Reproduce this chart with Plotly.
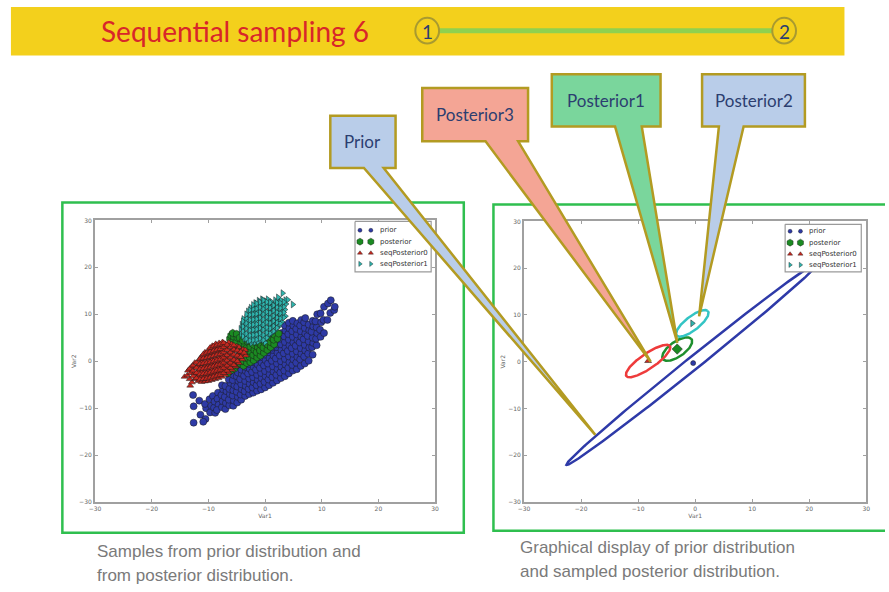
import numpy as np
import plotly.graph_objects as go

W, H = 889, 592

# ---------------- data ----------------
tick_vals = [-30, -20, -10, 0, 10, 20, 30]
series_names = ["prior", "posterior", "seqPosterior0", "seqPosterior1"]

prior_pts = [
    (-12.6, -13.1), (-12.6, -9.6), (-12.7, -7.2), (-11.6, -8.4), (-11.4, -11.4), (-10.5, -12.3), (-10.9, -12.9),
    (-10.4, -10.0), (-10.6, -9.1), (-9.7, -10.9), (-9.8, -8.1), (-9.5, -9.5), (-9.2, -7.4), (-9.0, -9.9),
    (-8.9, -8.6), (-8.8, -11.0), (-8.3, -6.7), (-8.4, -8.0), (-8.2, -9.3), (-8.5, -10.4),
    (-7.6, -9.8), (-7.5, -8.5), (-7.7, -7.2), (-7.4, -6.0), (-7.6, -5.1), (-7.0, -10.2), (-6.9, -8.9),
    (-7.1, -7.6), (-6.8, -6.4), (-7.0, -5.3),
    (-6.3, -9.4), (-6.4, -8.2), (-6.2, -7.0), (-6.3, -5.9), (-6.1, -4.6), (-6.4, -3.9),
    (-5.6, -9.5), (-5.5, -8.4), (-5.7, -7.3), (-5.6, -6.2), (-5.4, -5.1), (-5.7, -4.0), (-5.5, -3.0),
    (-4.9, -8.8), (-4.8, -7.6), (-5.0, -6.5), (-4.9, -5.4), (-4.7, -4.2), (-5.0, -3.2), (-4.8, -2.4),
    (-4.2, -8.2), (-4.3, -7.1), (-4.1, -6.0), (-4.2, -4.9), (-4.4, -3.8), (-4.1, -2.7), (-4.2, -1.8),
    (-3.5, -7.4), (-3.6, -6.4), (-3.4, -5.3), (-3.5, -4.2), (-3.7, -3.1), (-3.4, -2.1), (-3.5, -1.2),
    (-2.8, -7.0), (-2.9, -5.9), (-2.7, -4.8), (-2.8, -3.7), (-3.0, -2.6), (-2.7, -1.6), (-2.8, -0.6),
    (-2.1, -6.7), (-2.2, -5.6), (-2.0, -4.5), (-2.1, -3.4), (-2.3, -2.3), (-2.0, -1.2), (-2.1, -0.2),
    (-1.4, -6.3), (-1.5, -5.1), (-1.3, -4.0), (-1.4, -2.9), (-1.6, -1.8), (-1.3, -0.7), (-1.4, 0.4),
    (-0.7, -6.0), (-0.8, -4.8), (-0.6, -3.6), (-0.7, -2.5), (-0.9, -1.4), (-0.6, -0.3), (-0.7, 0.9),
    (0.0, -5.6), (-0.1, -4.4), (0.1, -3.2), (0.0, -2.1), (-0.2, -0.9), (0.1, 0.2), (0.0, 1.4),
    (0.7, -5.1), (0.6, -3.9), (0.8, -2.8), (0.7, -1.6), (0.5, -0.5), (0.8, 0.7), (0.7, 1.9), (0.6, 2.4),
    (1.4, -4.6), (1.3, -3.4), (1.5, -2.2), (1.4, -1.1), (1.2, 0.1), (1.5, 1.2), (1.4, 2.4), (1.3, 2.9),
    (2.1, -4.1), (2.0, -2.9), (2.2, -1.7), (2.1, -0.5), (1.9, 0.6), (2.2, 1.8), (2.1, 3.0), (2.0, 3.6),
    (2.8, -3.6), (2.7, -2.4), (2.9, -1.2), (2.8, 0.0), (2.6, 1.2), (2.9, 2.4), (2.8, 3.6), (2.7, 4.8), (2.9, 6.0),
    (3.5, -3.2), (3.4, -2.0), (3.6, -0.7), (3.5, 0.5), (3.3, 1.7), (3.6, 2.9), (3.5, 4.1), (3.4, 5.3), (3.6, 6.5), (3.5, 7.6),
    (4.2, -2.6), (4.1, -1.4), (4.3, -0.2), (4.2, 1.0), (4.0, 2.2), (4.3, 3.4), (4.2, 4.6), (4.1, 5.8), (4.3, 7.0), (4.2, 8.2),
    (4.9, -2.0), (4.8, -0.8), (5.0, 0.4), (4.9, 1.6), (4.7, 2.8), (5.0, 4.0), (4.9, 5.2), (4.8, 6.4), (5.0, 7.6), (4.9, 8.6),
    (5.6, -1.7), (5.5, -0.3), (5.7, 0.9), (5.6, 2.1), (5.4, 3.3), (5.7, 4.5), (5.6, 5.7), (5.5, 6.9), (5.7, 8.1),
    (6.3, -1.0), (6.2, 0.4), (6.4, 1.6), (6.3, 2.8), (6.1, 4.0), (6.4, 5.2), (6.3, 6.4), (6.2, 7.6), (6.4, 8.8),
    (7.0, -0.5), (6.9, 1.0), (7.1, 2.3), (7.0, 3.5), (6.8, 4.7), (7.1, 5.9), (7.0, 7.1), (6.9, 8.3), (7.1, 9.2),
    (7.7, 0.1), (7.6, 1.6), (7.8, 2.9), (7.7, 4.2), (7.5, 5.4), (7.8, 6.6), (7.7, 7.8),
    (8.4, 1.4), (8.3, 3.0), (8.5, 3.9), (8.4, 5.0), (8.2, 6.3), (8.5, 7.4), (8.4, 8.6),
    (9.1, 3.4), (9.0, 4.8), (9.2, 6.0), (9.1, 7.2), (8.9, 8.5), (9.2, 10.0),
    (9.8, 5.2), (9.7, 6.7), (9.9, 8.3), (9.8, 10.2),
    (10.4, 6.0), (10.3, 8.8), (10.4, 11.6), (11.0, 8.8), (11.1, 12.3), (11.6, 13.0), (11.5, 10.3),
    (12.2, 10.9), (12.3, 11.6),
]

posterior_pts = [
    (-6.6, -2.6), (-6.0, -2.0), (-5.4, -1.6), (-5.0, -0.9),
    (-6.2, 4.8), (-6.0, 5.5), (-5.6, 4.2), (-5.5, 5.2), (-5.7, 6.0),
    (-5.0, 3.0), (-5.1, 4.0), (-4.9, 5.0), (-5.0, 5.8),
    (-4.4, -0.5), (-4.5, 0.6), (-4.3, 1.7), (-4.4, 2.8), (-4.2, 3.9), (-4.5, 5.0),
    (-3.8, -1.0), (-3.9, 0.1), (-3.7, 1.2), (-3.8, 2.3), (-3.6, 3.4), (-3.9, 4.4),
    (-3.2, -0.4), (-3.3, 0.7), (-3.1, 1.8), (-3.2, 2.9), (-3.0, 4.0),
    (-2.6, -0.2), (-2.7, 0.9), (-2.5, 2.0), (-2.6, 3.1), (-2.4, 4.1),
    (-2.0, 0.2), (-2.1, 1.3), (-1.9, 2.4), (-2.0, 3.5),
    (-1.4, 0.8), (-1.5, 1.9), (-1.3, 3.0), (-1.4, 4.0),
    (-0.8, 1.2), (-0.9, 2.3), (-0.7, 3.4),
    (-0.2, 1.8), (-0.3, 2.9), (-0.1, 4.0),
    (0.4, 2.4), (0.5, 3.5),
    (1.0, 3.0), (0.9, 4.1), (1.1, 5.0),
    (1.6, 3.6), (1.5, 4.6), (1.7, 5.6), (2.2, 4.8), (2.4, 5.9),
]

seq0_pts = [
    (-14.2, -3.3), (-13.6, -2.0), (-13.7, -3.0), (-13.2, -5.2), (-13.0, -1.2), (-13.1, -2.5), (-12.9, -4.5),
    (-12.4, -3.8), (-12.5, -2.6), (-12.3, -1.4), (-12.4, -0.3),
    (-11.8, -4.2), (-11.9, -3.1), (-11.7, -2.0), (-11.8, -0.9), (-11.6, 0.2),
    (-11.2, -4.4), (-11.3, -3.4), (-11.1, -2.3), (-11.2, -1.2), (-11.0, -0.1), (-11.3, 0.9),
    (-10.6, -4.3), (-10.7, -3.3), (-10.5, -2.2), (-10.6, -1.1), (-10.4, 0.0), (-10.7, 1.0), (-10.6, 1.9),
    (-10.0, -4.2), (-10.1, -3.1), (-9.9, -2.0), (-10.0, -0.9), (-9.8, 0.2), (-10.1, 1.3), (-10.0, 2.3),
    (-9.4, -4.0), (-9.5, -2.9), (-9.3, -1.8), (-9.4, -0.7), (-9.2, 0.4), (-9.5, 1.5), (-9.4, 2.6), (-9.3, 3.3),
    (-8.8, -3.8), (-8.9, -2.7), (-8.7, -1.6), (-8.8, -0.5), (-8.6, 0.6), (-8.9, 1.7), (-8.8, 2.8), (-8.7, 3.7),
    (-8.2, -3.6), (-8.3, -2.5), (-8.1, -1.4), (-8.2, -0.3), (-8.0, 0.8), (-8.3, 1.9), (-8.2, 3.0), (-8.1, 3.9),
    (-7.6, -3.3), (-7.7, -2.2), (-7.5, -1.1), (-7.6, 0.0), (-7.4, 1.1), (-7.7, 2.2), (-7.6, 3.3), (-7.5, 4.1),
    (-7.0, -2.9), (-7.1, -1.8), (-6.9, -0.7), (-7.0, 0.4), (-6.8, 1.5), (-7.1, 2.6), (-7.0, 3.7),
    (-6.4, -2.4), (-6.5, -1.3), (-6.3, -0.2), (-6.4, 0.9), (-6.2, 2.0), (-6.5, 3.1), (-6.4, 4.0),
    (-5.8, -1.8), (-5.9, -0.7), (-5.7, 0.4), (-5.8, 1.5), (-5.6, 2.6), (-5.9, 3.6),
    (-5.2, -1.1), (-5.3, 0.0), (-5.1, 1.1), (-5.2, 2.2), (-5.0, 3.2),
    (-4.6, -0.4), (-4.7, 0.8), (-4.5, 1.9), (-4.6, 3.0),
    (-4.0, 0.4), (-4.1, 1.5), (-3.9, 2.5), (-3.4, 1.2), (-3.5, 2.4),
    (-13.3, -3.8), (-13.3, -1.6), (-12.7, -3.2), (-12.7, -2.0), (-12.7, -0.9), (-12.1, -3.6), (-12.1, -2.5),
    (-12.1, -1.4), (-12.1, -0.3), (-11.5, -3.9), (-11.5, -2.8), (-11.5, -1.7), (-11.5, -0.6), (-11.5, 0.5),
    (-10.9, -3.8), (-10.9, -2.7), (-10.9, -1.6), (-10.9, -0.5), (-10.9, 0.6), (-10.9, 1.5),
    (-10.3, -3.7), (-10.3, -2.6), (-10.3, -1.5), (-10.3, -0.4), (-10.3, 0.7), (-10.3, 1.8),
    (-9.7, -3.5), (-9.7, -2.4), (-9.7, -1.3), (-9.7, -0.2), (-9.7, 0.9), (-9.7, 2.0), (-9.7, 2.9),
    (-9.1, -3.3), (-9.1, -2.2), (-9.1, -1.1), (-9.1, 0.0), (-9.1, 1.1), (-9.1, 2.2), (-9.1, 3.2),
    (-8.5, -3.1), (-8.5, -2.0), (-8.5, -0.9), (-8.5, 0.2), (-8.5, 1.3), (-8.5, 2.4), (-8.5, 3.4),
    (-7.9, -2.9), (-7.9, -1.8), (-7.9, -0.7), (-7.9, 0.4), (-7.9, 1.5), (-7.9, 2.6), (-7.9, 3.6),
    (-7.3, -2.5), (-7.3, -1.4), (-7.3, -0.3), (-7.3, 0.8), (-7.3, 1.9), (-7.3, 3.0), (-7.3, 3.9),
    (-6.7, -2.0), (-6.7, -0.9), (-6.7, 0.2), (-6.7, 1.3), (-6.7, 2.4), (-6.7, 3.5),
    (-6.1, -1.4), (-6.1, -0.3), (-6.1, 0.8), (-6.1, 1.9), (-6.1, 3.0),
    (-5.5, -0.8), (-5.5, 0.3), (-5.5, 1.4), (-5.5, 2.5), (-5.5, 3.4),
    (-4.9, 0.0), (-4.9, 1.2), (-4.9, 2.3), (-4.3, 0.9), (-4.3, 2.0), (-3.7, 1.8),
]

seq1_pts = [
    (-4.2, 5.8), (-4.3, 6.9), (-4.1, 7.8),
    (-3.6, 4.8), (-3.7, 5.9), (-3.5, 7.0), (-3.6, 8.1), (-3.8, 9.0),
    (-3.0, 4.3), (-3.1, 5.4), (-2.9, 6.5), (-3.0, 7.6), (-3.2, 8.7), (-2.9, 9.8), (-3.0, 10.6),
    (-2.4, 3.9), (-2.5, 5.0), (-2.3, 6.1), (-2.4, 7.2), (-2.6, 8.3), (-2.3, 9.4), (-2.4, 10.5), (-2.5, 11.4),
    (-1.8, 4.0), (-1.9, 5.1), (-1.7, 6.2), (-1.8, 7.3), (-2.0, 8.4), (-1.7, 9.5), (-1.8, 10.6), (-1.9, 11.7), (-1.7, 12.4),
    (-1.2, 4.2), (-1.3, 5.3), (-1.1, 6.4), (-1.2, 7.5), (-1.4, 8.6), (-1.1, 9.7), (-1.2, 10.8), (-1.3, 11.9), (-1.1, 12.9),
    (-0.6, 4.6), (-0.7, 5.7), (-0.5, 6.8), (-0.6, 7.9), (-0.8, 9.0), (-0.5, 10.1), (-0.6, 11.2), (-0.7, 12.3), (-0.5, 13.2),
    (0.0, 4.0), (-0.1, 5.1), (0.1, 6.2), (0.0, 7.3), (-0.2, 8.4), (0.1, 9.5), (0.0, 10.6), (-0.1, 11.7), (0.1, 12.8),
    (0.6, 5.5), (0.5, 6.6), (0.7, 7.7), (0.6, 8.8), (0.4, 9.9), (0.7, 11.0), (0.6, 12.1), (0.5, 13.2),
    (1.2, 6.0), (1.1, 7.1), (1.3, 8.2), (1.2, 9.3), (1.0, 10.4), (1.3, 11.5), (1.2, 12.6),
    (1.8, 6.6), (1.7, 7.7), (1.9, 8.8), (1.8, 9.9), (1.6, 11.0), (1.9, 12.1), (1.8, 13.0),
    (2.4, 7.4), (2.3, 8.5), (2.5, 9.6), (2.4, 10.7), (2.2, 11.8), (2.5, 12.9),
    (3.0, 8.4), (2.9, 9.5), (3.1, 10.6), (3.0, 11.8), (2.8, 13.0),
    (3.6, 9.6), (3.5, 11.0), (3.7, 12.2), (3.6, 13.0), (4.0, 13.1),
    (3.1, 14.5), (4.9, 12.1), (2.3, 13.6),
    (-3.9, 5.3), (-3.9, 6.4), (-3.9, 7.4), (-3.9, 8.5),
    (-3.3, 4.8), (-3.3, 5.9), (-3.3, 7.0), (-3.3, 8.1), (-3.3, 9.2), (-3.3, 10.0),
    (-2.7, 4.4), (-2.7, 5.5), (-2.7, 6.6), (-2.7, 7.7), (-2.7, 8.8), (-2.7, 9.9), (-2.7, 10.9),
    (-2.1, 4.5), (-2.1, 5.6), (-2.1, 6.7), (-2.1, 7.8), (-2.1, 8.9), (-2.1, 10.0), (-2.1, 11.1), (-2.1, 12.0),
    (-1.5, 4.6), (-1.5, 5.7), (-1.5, 6.8), (-1.5, 7.9), (-1.5, 9.0), (-1.5, 10.1), (-1.5, 11.2), (-1.5, 12.3),
    (-0.9, 4.9), (-0.9, 6.0), (-0.9, 7.1), (-0.9, 8.2), (-0.9, 9.3), (-0.9, 10.4), (-0.9, 11.5), (-0.9, 12.6),
    (-0.3, 4.5), (-0.3, 5.6), (-0.3, 6.7), (-0.3, 7.8), (-0.3, 8.9), (-0.3, 10.0), (-0.3, 11.1), (-0.3, 12.2), (-0.3, 13.0),
    (0.3, 5.0), (0.3, 6.1), (0.3, 7.2), (0.3, 8.3), (0.3, 9.4), (0.3, 10.5), (0.3, 11.6), (0.3, 12.6),
    (0.9, 5.9), (0.9, 7.0), (0.9, 8.1), (0.9, 9.2), (0.9, 10.3), (0.9, 11.4), (0.9, 12.5),
    (1.5, 6.4), (1.5, 7.5), (1.5, 8.6), (1.5, 9.7), (1.5, 10.8), (1.5, 11.9),
    (2.1, 7.1), (2.1, 8.2), (2.1, 9.3), (2.1, 10.4), (2.1, 11.5), (2.1, 12.5),
    (2.7, 8.0), (2.7, 9.1), (2.7, 10.2), (2.7, 11.3), (2.7, 12.4),
    (3.3, 9.3), (3.3, 10.4), (3.3, 11.6), (3.3, 12.6),
]

# ellipse summaries (right panel): centre, semi-axes, rotation (deg)
ell_cx = [-0.35, -3.15, -8.25, -0.5]
ell_cy = [-0.3, 2.7, 0.15, 8.2]
ell_a = [31.1, 3.3, 5.0, 3.8]
ell_b = [1.25, 1.5, 1.5, 1.35]
ell_deg = [44.4, 43.0, 41.0, 45.0]

title_text = "Sequential sampling 6"
step_labels = ["1", "2"]
callout_labels = ["Prior", "Posterior3", "Posterior1", "Posterior2"]
caption_left = ["Samples from prior distribution and", "from posterior distribution."]
caption_right = ["Graphical display of prior distribution", "and sampled posterior distribution."]

# ---------------- style ----------------
colors = ["#2e3aa6", "#1b8a22", "#c8281f", "#2fb5ae"]
line_colors = ["#2e3aa8", "#1e8f2e", "#ee3b3b", "#33c4c4"]
symbols = ["circle", "hexagon", "triangle-up", "triangle-right"]
sizes = [7, 7.5, 6, 6]

fig = go.Figure()


def pts(p):
    return [q[0] for q in p], [q[1] for q in p]


# left panel scatters
for i, p in enumerate([prior_pts, posterior_pts, seq0_pts, seq1_pts]):
    xs, ys = pts(p)
    fig.add_trace(go.Scatter(
        x=xs, y=ys, mode="markers", name=series_names[i], showlegend=False,
        marker=dict(symbol=symbols[i], size=sizes[i], color=colors[i],
                    line=dict(color="#1a1a1a", width=0.5)),
        xaxis="x", yaxis="y"))

# right panel ellipses + centres
t = np.linspace(0, 2 * np.pi, 241)
for i in range(4):
    th = np.deg2rad(ell_deg[i])
    ex = ell_cx[i] + ell_a[i] * np.cos(t) * np.cos(th) - ell_b[i] * np.sin(t) * np.sin(th)
    ey = ell_cy[i] + ell_a[i] * np.cos(t) * np.sin(th) + ell_b[i] * np.sin(t) * np.cos(th)
    fig.add_trace(go.Scatter(x=ex, y=ey, mode="lines", showlegend=False,
                             line=dict(color=line_colors[i], width=2.5),
                             xaxis="x2", yaxis="y2"))
msize_c = [5, 8, 6, 6]
for i in range(4):
    fig.add_trace(go.Scatter(
        x=[ell_cx[i]], y=[ell_cy[i]], mode="markers", showlegend=False,
        marker=dict(symbol="diamond" if i == 1 else symbols[i], size=msize_c[i], color=colors[i],
                    line=dict(color="#1a1a1a", width=0.5)),
        xaxis="x2", yaxis="y2"))

# ---- overlay pixel axes (x3/y3) for legends ----
legends = [
    dict(box=(353, 220, 430, 271), ys=[229, 240.5, 252, 263], mx=(358, 369), tx=376),
    dict(box=(788, 223, 865, 271), ys=[230, 241.5, 253, 264], mx=(793, 803.5), tx=810),
]
leg_sizes = [4, 7, 4.5, 4.5]
annotations = []
for lg in legends:
    x0, y0, x1, y1 = lg["box"]
    fig.add_trace(go.Scatter(x=[x0, x1, x1, x0, x0], y=[y0, y0, y1, y1, y0], mode="lines",
                             fill="toself", fillcolor="white", line=dict(color="#9a9a9a", width=1.2),
                             showlegend=False, xaxis="x3", yaxis="y3", hoverinfo="skip"))
    for i in range(4):
        fig.add_trace(go.Scatter(
            x=list(lg["mx"]), y=[lg["ys"][i]] * 2, mode="markers", showlegend=False,
            marker=dict(symbol=symbols[i], size=leg_sizes[i], color=colors[i],
                        line=dict(color="#1a1a1a", width=0.4)),
            xaxis="x3", yaxis="y3", hoverinfo="skip"))
        annotations.append(dict(x=lg["tx"], y=lg["ys"][i], xref="x3", yref="y3", text=series_names[i],
                                showarrow=False, xanchor="left", yanchor="middle",
                                font=dict(family="DejaVu Sans", size=7, color="#333")))

# ---------------- axes ----------------
def ax(domain, title):
    return dict(domain=domain, range=[-30, 30], tickvals=tick_vals, ticks="inside", ticklen=3,
                tickcolor="#a0a0a0", showline=True, linecolor="#a0a0a0", linewidth=2, mirror="allticks",
                showgrid=False, zeroline=False,
                tickfont=dict(family="DejaVu Sans", size=6, color="#666"),
                title=dict(text=title, font=dict(family="DejaVu Sans", size=6, color="#666"), standoff=2),
                fixedrange=True)


layout_axes = dict(
    xaxis=dict(ax([90 / W, 434 / W], "Var1"), anchor="y"),
    yaxis=dict(ax([1 - 504 / H, 1 - 219 / H], "Var2"), anchor="x"),
    xaxis2=dict(ax([524 / W, 870 / W], "Var1"), anchor="y2"),
    yaxis2=dict(ax([1 - 504 / H, 1 - 220 / H], "Var2"), anchor="x2"),
    xaxis3=dict(domain=[0, 1], range=[0, W], visible=False, anchor="y3", fixedrange=True),
    yaxis3=dict(domain=[0, 1], range=[H, 0], visible=False, anchor="x3", fixedrange=True),
)

# ---------------- decorations ----------------
shapes = []
# banner
shapes.append(dict(type="rect", xref="x3", yref="y3", x0=5, y0=3, x1=848, y1=52,
                   fillcolor="#f3d01c", line=dict(width=0), layer="below"))
shapes.append(dict(type="line", xref="x3", yref="y3", x0=438, y0=27, x1=775, y1=27,
                   line=dict(color="#8fd14f", width=5), layer="below"))
for cx in (426, 787):
    shapes.append(dict(type="circle", xref="x3", yref="y3", x0=cx - 12, y0=14, x1=cx + 12, y1=40,
                       fillcolor="#f3d01c", line=dict(color="#a89a30", width=2), layer="below"))
annotations.append(dict(x=232, y=27, xref="x3", yref="y3", text=title_text, showarrow=False,
                        font=dict(family="Lato", size=28, color="#d8262a")))
for lab, cx in zip(step_labels, (426, 787)):
    annotations.append(dict(x=cx, y=27.5, xref="x3", yref="y3", text=lab, showarrow=False,
                            font=dict(family="Lato", size=19, color="#2c3e70")))

# panel frames
shapes.append(dict(type="rect", xref="x3", yref="y3", x0=57, y0=201, x1=463, y1=535,
                   line=dict(color="#2fbf4f", width=2.5), layer="below"))
shapes.append(dict(type="rect", xref="x3", yref="y3", x0=493, y0=203, x1=895, y1=533,
                   line=dict(color="#2fbf4f", width=2.5), layer="below"))

# captions
for k, line in enumerate(caption_left):
    annotations.append(dict(x=90, y=554 + 24.5 * k, xref="x3", yref="y3", text=line, showarrow=False,
                            xanchor="left", font=dict(family="Liberation Sans", size=17, color="#7a7a7a")))
for k, line in enumerate(caption_right):
    annotations.append(dict(x=518, y=550 + 24 * k, xref="x3", yref="y3", text=line, showarrow=False,
                            xanchor="left", font=dict(family="Liberation Sans", size=17, color="#7a7a7a")))

# callouts: box (l,t,r,b), pointer base (xl,xr), tip
callouts = [
    dict(box=(328, 113, 394, 166), base=(362, 382), tip=(596, 436), fill="#b9cde9"),
    dict(box=(421, 85, 528, 139), base=(485, 518), tip=(652, 362), fill="#f4a595"),
    dict(box=(552, 71, 662, 124), base=(616, 643), tip=(679, 343), fill="#7ad69c"),
    dict(box=(704, 71, 808, 124), base=(721, 746), tip=(701, 316), fill="#b9cde9"),
]
for lab, c in zip(callout_labels, callouts):
    l, tp, r, b = c["box"]
    bl, br = c["base"]
    tx, ty = c["tip"]
    path = (f"M{l},{tp} L{r},{tp} L{r},{b} L{br},{b} L{tx},{ty} L{bl},{b} L{l},{b} Z")
    shapes.append(dict(type="path", xref="x3", yref="y3", path=path, fillcolor=c["fill"],
                       line=dict(color="#b39b22", width=2.5), layer="above"))
    annotations.append(dict(x=(l + r) / 2, y=(tp + b) / 2, xref="x3", yref="y3", text=lab,
                            showarrow=False, font=dict(family="Lato", size=17, color="#2c3e70")))

fig.update_layout(
    width=W, height=H, autosize=False,
    margin=dict(l=0, r=0, t=0, b=0, pad=0),
    paper_bgcolor="white", plot_bgcolor="rgba(0,0,0,0)",
    showlegend=False,
    shapes=shapes, annotations=annotations,
    **layout_axes,
)

fig.write_html("out.html")
